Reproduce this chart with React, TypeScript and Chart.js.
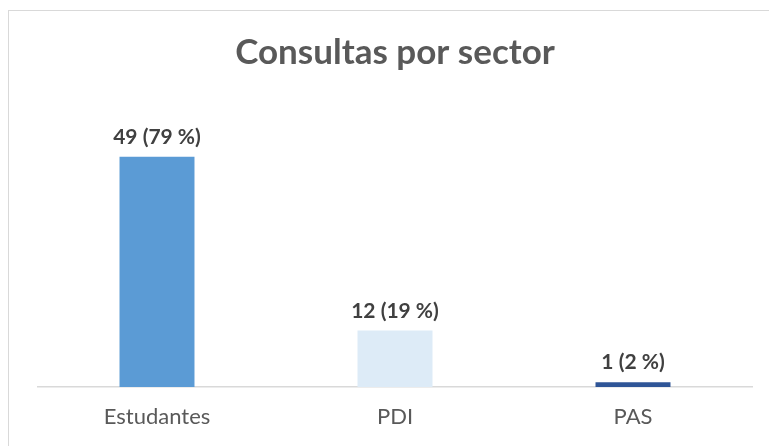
import React, { useEffect, useRef } from "react";
import { Chart, registerables } from "chart.js";

Chart.register(...registerables);

const categories = ["Estudantes", "PDI", "PAS"];
const values = [49, 12, 1];
const percents = [79, 19, 2];
const barColors = ["#5B9BD5", "#DDEBF7", "#2F5597"];
const chartTitle = "Consultas por sector";

const FONT = "Lato, 'Noto Sans', sans-serif";

const labelPlugin = {
  id: "barLabels",
  afterDatasetsDraw(chart: any) {
    const ctx = chart.ctx;
    const meta = chart.getDatasetMeta(0);
    ctx.save();
    ctx.font = `bold 21px ${FONT}`;
    ctx.fillStyle = "#404040";
    ctx.textAlign = "center";
    ctx.textBaseline = "alphabetic";
    meta.data.forEach((el: any, i: number) => {
      ctx.fillText(`${values[i]} (${percents[i]} %)`, el.x, el.y - 13);
    });
    ctx.restore();
  },
};

export default function App() {
  const ref = useRef<HTMLCanvasElement>(null);
  useEffect(() => {
    document.body.style.margin = "0";
    const chart = new Chart(ref.current!, {
      type: "bar",
      data: {
        labels: categories,
        datasets: [
          {
            data: values,
            backgroundColor: barColors,
            borderWidth: 0,
            barPercentage: 0.315,
            categoryPercentage: 1,
          },
        ],
      },
      options: {
        responsive: false,
        animation: false,
        layout: { padding: { left: 38, right: 17, top: 0, bottom: 0 } },
        plugins: {
          legend: { display: false },
          tooltip: { enabled: false },
          title: {
            display: true,
            text: chartTitle,
            color: "#595959",
            font: { family: FONT, size: 35, weight: "bold" },
            padding: { top: 32, bottom: 31 },
          },
        },
        scales: {
          x: {
            grid: { display: false, drawTicks: false },
            border: { display: true, color: "#D9D9D9", width: 1.5 },
            ticks: { color: "#595959", font: { family: FONT, size: 22 }, padding: 17 },
            afterFit: (s: any) => {
              s.height = 59;
            },
          },
          y: {
            display: false,
            min: 0,
            max: 60,
          },
        },
      },
      plugins: [labelPlugin],
    });
    return () => chart.destroy();
  }, []);
  return (
    <div style={{ position: "relative", width: 769, height: 446, background: "#fff", overflow: "hidden" }}>
      <div
        style={{
          position: "absolute",
          left: 8,
          top: 10,
          width: 800,
          height: 500,
          border: "1.5px solid #D9D9D9",
          boxSizing: "border-box",
        }}
      />
      <canvas ref={ref} width={769} height={446} style={{ position: "absolute", left: 0, top: 0 }} />
    </div>
  );
}
